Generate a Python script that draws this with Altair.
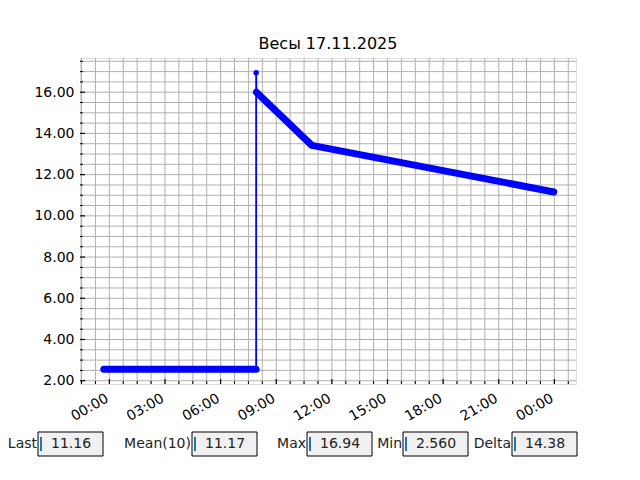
import altair as alt
import pandas as pd

# ---- data ----
times = ["2025-11-16 23:42", "2025-11-17 07:55", "2025-11-17 07:55",
         "2025-11-17 07:56", "2025-11-17 10:55", "2025-11-17 23:58"]
weights = [2.56, 2.56, 16.94, 16.0, 13.42, 11.16]
segments = ["flat", "flat", "spike", "decline", "decline", "decline"]

widget_labels = ["Last", "Mean(10)", "Max", "Min", "Delta"]
widget_values = ["11.16", "11.17", "16.94", "2.560", "14.38"]

title_text = "Весы 17.11.2025"

# ---- layout (pixels, relative to plot origin) ----
W, H = 496, 326
box_left = [-42, 112, 227, 323, 432]
box_w = 65
box_top, box_bot = 374, 398
FONT = "DejaVu Sans"
BLUE = "#0000ff"
GRID = "#b0b0b0"

df = pd.DataFrame({"t": pd.to_datetime(times), "w": weights,
                   "seg": segments, "i": list(range(len(times)))})


def dt(d, h, m):
    return alt.DateTime(year=2025, month=11, date=d, hours=h, minutes=m)


x_dom = [dt(16, 22, 25), dt(18, 1, 10)]
y_dom = [1.84, 17.66]

x_grid = list(pd.date_range("2025-11-16 22:30", "2025-11-18 00:45", freq="45min"))
x_major = [t for t in x_grid if t.minute == 0 and t.hour % 3 == 0]
x_minor = [t for t in x_grid if not (t.minute == 0 and t.hour % 3 == 0)]
x_major_dt = [dt(t.day, t.hour, t.minute) for t in x_major]

y_grid = [2.0 + 0.5 * k for k in range(32)]
y_major = [v for v in y_grid if v % 2 == 0 and v <= 16]
y_minor = [v for v in y_grid if v not in y_major]

common_axis = dict(labelFont=FONT, labelFontSize=14, labelColor="black",
                   labelOverlap=False, labelBound=False, labelFlush=False,
                   grid=False, ticks=False, domain=False, title=None)

x_axis = alt.Axis(values=x_major_dt, format="%H:%M",
                  labelAngle=-30, labelAlign="right", labelBaseline="top",
                  labelPadding=7, labelOffset=-6, **common_axis)
y_axis = alt.Axis(values=y_major, format=".2f", labelPadding=6, **common_axis)

x_scale = alt.Scale(domain=x_dom, nice=False)
y_scale = alt.Scale(domain=y_dom, nice=False, zero=False)


def X():
    return alt.X("t:T", scale=x_scale, axis=x_axis)


def Y():
    return alt.Y("w:Q", scale=y_scale, axis=y_axis)


# grid lines (major + minor, same style)
gx = alt.Chart(pd.DataFrame({"t": x_grid})).mark_rule(color=GRID, strokeWidth=1).encode(
    x=X(), y=alt.value(0), y2=alt.value(H))
gy = alt.Chart(pd.DataFrame({"w": y_grid})).mark_rule(color=GRID, strokeWidth=1).encode(
    y=Y(), x=alt.value(0), x2=alt.value(W))

base = alt.Chart(df)
thin = base.mark_line(color=BLUE, strokeWidth=1.8).encode(
    x=X(), y=Y(), order="i:Q")
thick = base.transform_filter("datum.seg != 'spike'").mark_line(
    color=BLUE, strokeWidth=7, strokeCap="round", strokeJoin="round").encode(
    x=X(), y=Y(), detail="seg:N", order="i:Q")
pts = base.mark_point(filled=True, color=BLUE, size=30, opacity=1).encode(
    x=X(), y=Y())

# inward tick marks
xt_major = alt.Chart(pd.DataFrame({"t": x_major})).mark_rule(color="black", strokeWidth=1.2).encode(
    x=X(), y=alt.value(H), y2=alt.value(H - 5))
xt_minor = alt.Chart(pd.DataFrame({"t": x_minor})).mark_rule(color="black", strokeWidth=1).encode(
    x=X(), y=alt.value(H), y2=alt.value(H - 3))
yt_major = alt.Chart(pd.DataFrame({"w": y_major})).mark_rule(color="black", strokeWidth=1.2).encode(
    y=Y(), x=alt.value(0), x2=alt.value(5))
yt_minor = alt.Chart(pd.DataFrame({"w": y_minor})).mark_rule(color="black", strokeWidth=1).encode(
    y=Y(), x=alt.value(0), x2=alt.value(3))

layers = [gx, gy, thin, thick, pts, xt_major, xt_minor, yt_major, yt_minor]

one = pd.DataFrame({"a": [0]})
ymid = (box_top + box_bot) / 2
for lab, val, x0 in zip(widget_labels, widget_values, box_left):
    layers.append(alt.Chart(one).mark_rect(fill="#f0f0f0", stroke="black", strokeWidth=1).encode(
        x=alt.value(x0), x2=alt.value(x0 + box_w), y=alt.value(box_top), y2=alt.value(box_bot)))
    layers.append(alt.Chart(one).mark_rule(color="#1f77b4", strokeWidth=2).encode(
        x=alt.value(x0 + 3), y=alt.value(box_top + 5), y2=alt.value(box_bot - 5)))
    layers.append(alt.Chart(one).mark_text(align="right", baseline="middle", font=FONT,
                                           fontSize=14, color="#222222").encode(
        x=alt.value(x0 - 1), y=alt.value(ymid), text=alt.value(lab)))
    layers.append(alt.Chart(one).mark_text(align="left", baseline="middle", font=FONT,
                                           fontSize=14, color="#222222").encode(
        x=alt.value(x0 + 13), y=alt.value(ymid), text=alt.value(val)))

chart = alt.layer(*layers).properties(
    width=W, height=H,
    title=alt.TitleParams(title_text, font=FONT, fontSize=16, fontWeight="normal",
                          color="black", anchor="middle", offset=6),
    autosize=alt.AutoSizeParams(type="none"),
    padding={"left": 72, "top": 50, "right": 50, "bottom": 88},
).configure_view(stroke="black", strokeWidth=1.1).configure(background="white")

chart.save("out.html", embed_options={"renderer": "svg", "actions": False})
